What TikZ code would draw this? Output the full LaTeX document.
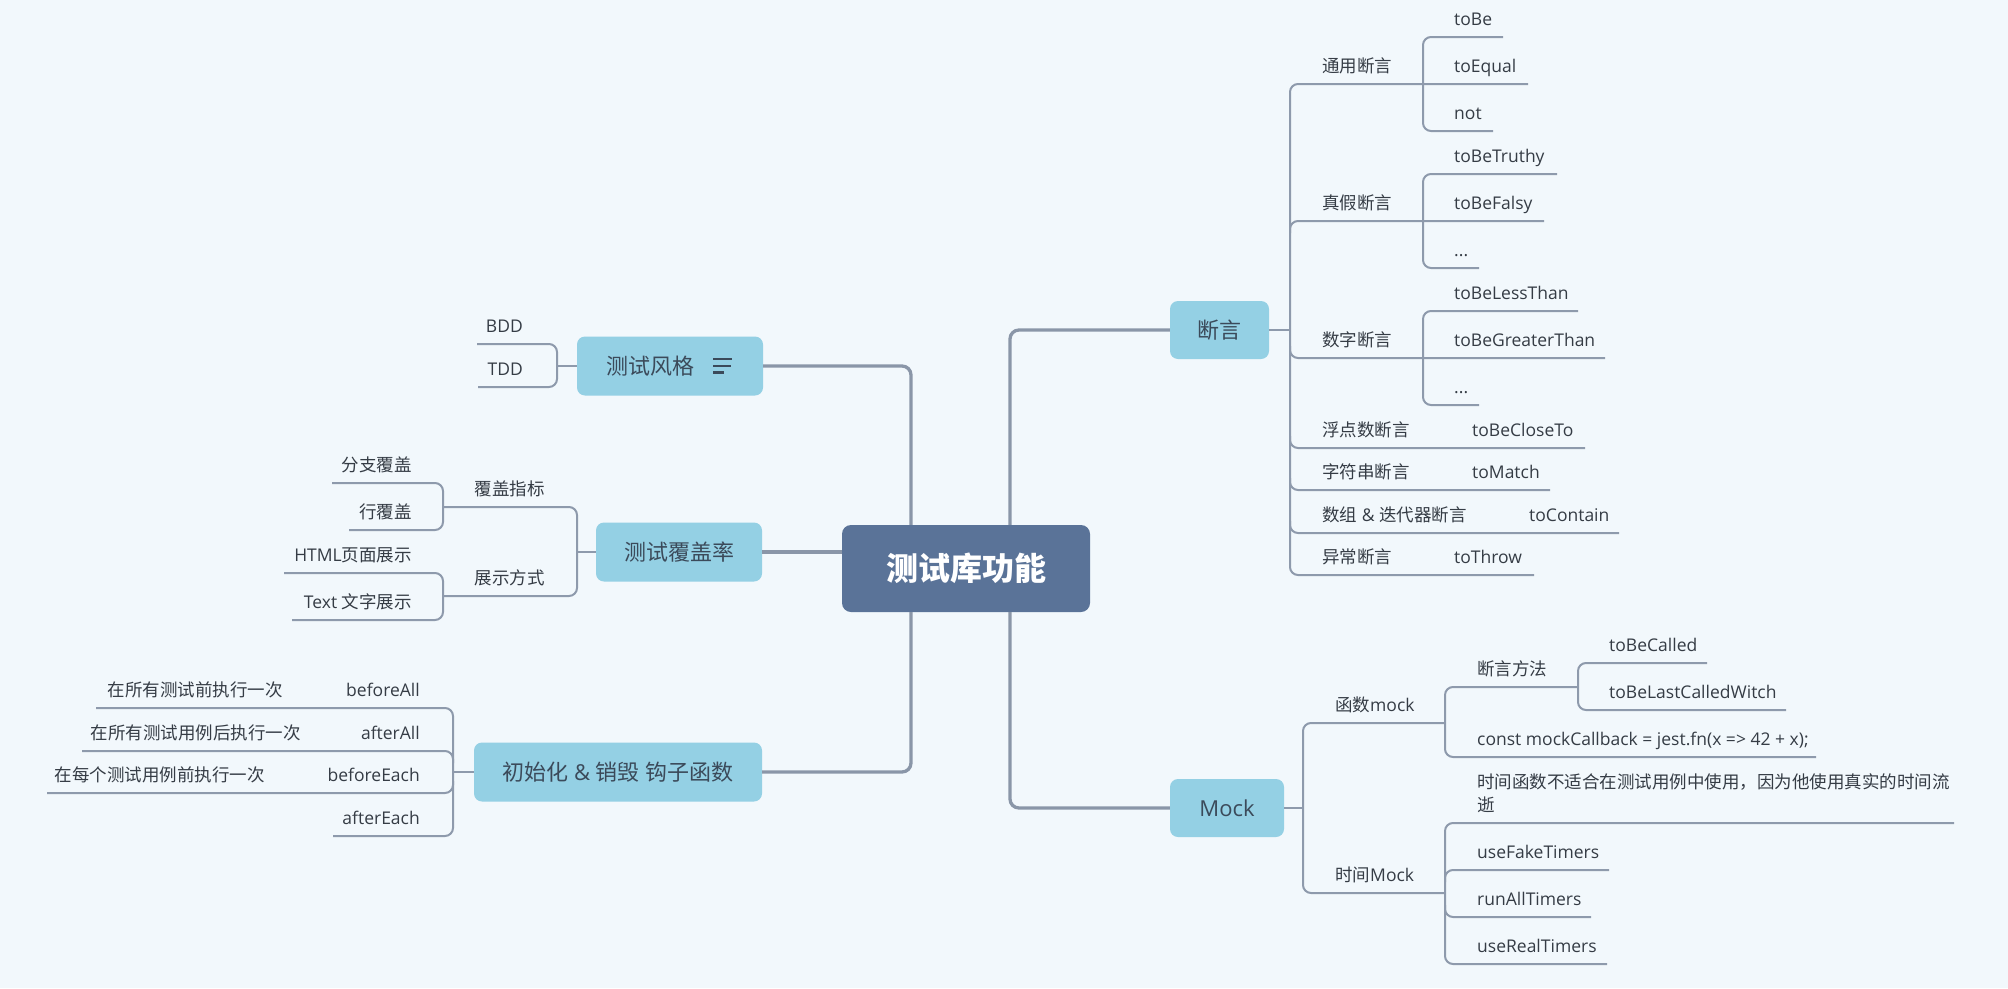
\documentclass[tikz,border=0pt]{standalone}
\usepackage{fontspec}
\setmainfont{Open Sans}
\newfontfamily\zhfont{Noto Sans CJK SC}
\newcommand\zh[1]{{\zhfont #1}}
\definecolor{bgcol}{HTML}{F2F8FC}
\definecolor{rootfill}{HTML}{5A7398}
\definecolor{mainfill}{HTML}{94D0E4}
\definecolor{trunkcol}{HTML}{8A96A8}
\definecolor{linecol}{HTML}{8E9AAC}
\definecolor{leafcol}{HTML}{353C45}
\definecolor{maincol}{HTML}{3B4A5A}
\newcommand\LW[4]{\node[leaf, anchor=base west] (#1) at (#2,#3-12) {#4};}
\newcommand\LE[4]{\node[leaf, anchor=base east] (#1) at (#2,#3-12) {#4};}
\begin{document}
\begin{tikzpicture}[x=1pt,y=-1pt,
  rootbox/.style={fill=rootfill, rounded corners=9pt, inner sep=0pt, text=white,
    font=\fontsize{32}{38}\selectfont\zhfont\bfseries},
  mainbox/.style={fill=mainfill, rounded corners=8pt, inner sep=0pt, text=maincol,
    font=\fontsize{22}{26}\selectfont},
  leaf/.style={inner sep=0pt, text=leafcol, font=\fontsize{17.5}{21}\selectfont},
  trunkline/.style={draw=trunkcol, line width=3.3pt, rounded corners=9pt},
  subline/.style={draw=linecol, line width=2pt, rounded corners=8pt},
  iconline/.style={draw=maincol, line width=2.6pt},
]
\fill[bgcol] (0,0) rectangle (2008,988);
\path[use as bounding box] (0,0) rectangle (2008,988);

% ---------- boxes ----------
\node[rootbox, minimum width=248pt, minimum height=87pt] (root) at (966,568.5) {测试库功能};
\node[mainbox, minimum width=186pt, minimum height=59pt] (tsfg) at (670,366) {\zh{测试风格}\hspace*{39pt}};
\node[mainbox, minimum width=166pt, minimum height=59pt] (cov) at (679,552) {\zh{测试覆盖率}};
\node[mainbox, minimum width=288pt, minimum height=59pt] (init) at (618,772) {\zh{初始化} \& \zh{销毁} \zh{钩子函数}};
\node[mainbox, minimum width=99pt, minimum height=58pt] (dy) at (1219.5,330) {\zh{断言}};
\node[mainbox, minimum width=114pt, minimum height=58pt] (mock) at (1227,808) {Mock};

% notes icon
\draw[iconline] (713,359) -- (732,359);
\draw[iconline] (713,366) -- (731,366);
\draw[iconline] (713,372.5) -- (724,372.5);

% ---------- main trunks ----------
\draw[trunkline] (root.north -| 911,0) -- (911,366) -- (tsfg.east);
\draw[trunkline] (root.south -| 911,0) -- (911,772) -- (init.east);
\draw[trunkline] (cov.east) -- (cov.east -| root.west);
\draw[trunkline] (root.north -| 1010,0) -- (1010,330) -- (dy.west);
\draw[trunkline] (root.south -| 1010,0) -- (1010,808) -- (mock.west);

% ---------- 断言 ----------
\draw[subline] (dy.east) -- (1290,330);
\draw[subline] (1528,84) -- (1290,84) -- (1290,575) -- (1534,575);
\draw[subline] (1290,233) -- (1290,221) -- (1544,221);
\draw[subline] (1290,346) -- (1290,358) -- (1605,358);
\draw[subline] (1290,436) -- (1290,448) -- (1585,448);
\draw[subline] (1290,478) -- (1290,490) -- (1550,490);
\draw[subline] (1290,521) -- (1290,533) -- (1619,533);
\draw[subline] (1503,37) -- (1423,37) -- (1423,131) -- (1493,131);
\draw[subline] (1557,174) -- (1423,174) -- (1423,268) -- (1479,268);
\draw[subline] (1578,311) -- (1423,311) -- (1423,405) -- (1479,405);

\LW{ty}{1322}{84}{\zh{通用断言}}
\LW{tobe}{1454}{37}{toBe}
\LW{toequal}{1454}{84}{toEqual}
\LW{lnot}{1454}{131}{not}
\LW{zj}{1322}{221}{\zh{真假断言}}
\LW{truthy}{1454}{174}{toBeTruthy}
\LW{falsy}{1454}{221}{toBeFalsy}
\LW{dotsa}{1454}{268}{...}
\LW{sz}{1322}{358}{\zh{数字断言}}
\LW{less}{1454}{311}{toBeLessThan}
\LW{greater}{1454}{358}{toBeGreaterThan}
\LW{dotsb}{1454}{405}{...}
\LW{fd}{1322}{448}{\zh{浮点数断言}}
\LW{close}{1472}{448}{toBeCloseTo}
\LW{zf}{1322}{490}{\zh{字符串断言}}
\LW{match}{1472}{490}{toMatch}
\LW{sjz}{1322}{533}{\zh{数组} \& \zh{迭代器断言}}
\LW{contain}{1529}{533}{toContain}
\LW{yc}{1322}{575}{\zh{异常断言}}
\LW{throw}{1454}{575}{toThrow}

% ---------- Mock ----------
\draw[subline] (mock.east) -- (1303,808);
\draw[subline] (1445,723) -- (1303,723) -- (1303,893) -- (1445,893);
\draw[subline] (1578,687) -- (1445,687) -- (1445,757) -- (1816,757);
\draw[subline] (1707,663) -- (1578,663) -- (1578,710) -- (1786,710);
\draw[subline] (1954,823) -- (1445,823) -- (1445,964) -- (1607,964);
\draw[subline] (1445,882) -- (1445,870) -- (1609,870);
\draw[subline] (1445,905) -- (1445,917) -- (1591,917);

\LW{hs}{1335}{723}{\zh{函数}mock}
\LW{dyff}{1477}{687}{\zh{断言方法}}
\LW{called}{1609}{663}{toBeCalled}
\LW{lastcalled}{1609}{710}{toBeLastCalledWitch}
\LW{const}{1477}{757}{const mockCallback = jest.fn(x => 42 + x);}
\LW{sj}{1335}{893}{\zh{时间}Mock}
\node[leaf, anchor=base west] (sjhs) at (1477,788)
  {\vtop{\baselineskip=23pt\hbox{\zh{时间函数不适合在测试用例中使用，因为他使用真实的时间流}}\hbox{\zh{逝}}}};
\LW{fake}{1477}{870}{useFakeTimers}
\LW{runall}{1477}{917}{runAllTimers}
\LW{real}{1477}{964}{useRealTimers}

% ---------- 测试风格 ----------
\draw[subline] (tsfg.west) -- (557,366);
\draw[subline] (477,344) -- (557,344) -- (557,387) -- (478,387);
\LE{bdd}{523}{344}{BDD}
\LE{tdd}{523}{387}{TDD}

% ---------- 测试覆盖率 ----------
\draw[subline] (cov.west) -- (577,552);
\draw[subline] (443,507) -- (577,507) -- (577,596) -- (443,596);
\draw[subline] (332,483) -- (443,483) -- (443,530) -- (349,530);
\draw[subline] (284,573) -- (443,573) -- (443,620) -- (292,620);
\LE{fgzb}{545}{507}{\zh{覆盖指标}}
\LE{fzfg}{412}{483}{\zh{分支覆盖}}
\LE{hfg}{412}{530}{\zh{行覆盖}}
\LE{zsfs}{545}{596}{\zh{展示方式}}
\LE{html}{412}{573}{HTML\zh{页面展示}}
\LE{textzs}{412}{620}{Text \zh{文字展示}}

% ---------- 初始化 & 销毁 ----------
\draw[subline] (init.west) -- (453,772);
\draw[subline] (96,708) -- (453,708) -- (453,836) -- (333,836);
\draw[subline] (82,751) -- (453,751) -- (453,763);
\draw[subline] (47,793) -- (453,793) -- (453,781);
\LE{beforeall}{420}{708}{beforeAll}
\LE{zsyq}{283}{708}{\zh{在所有测试前执行一次}}
\LE{afterall}{420}{751}{afterAll}
\LE{zsyh}{301}{751}{\zh{在所有测试用例后执行一次}}
\LE{beforeeach}{420}{793}{beforeEach}
\LE{zmgq}{265}{793}{\zh{在每个测试用例前执行一次}}
\LE{aftereach}{420}{836}{afterEach}
\end{tikzpicture}
\end{document}
